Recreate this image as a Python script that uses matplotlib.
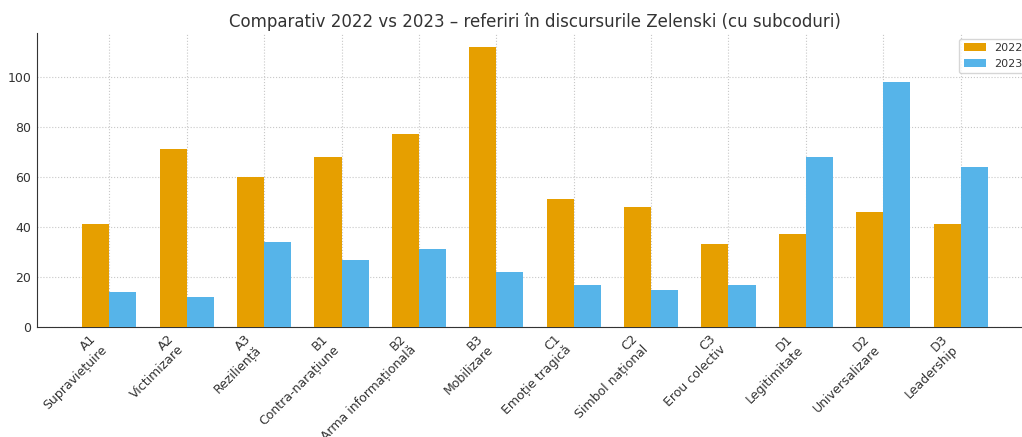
import matplotlib
matplotlib.use("Agg")
import matplotlib.pyplot as plt
import numpy as np

codes = ["A1", "A2", "A3", "B1", "B2", "B3", "C1", "C2", "C3", "D1", "D2", "D3"]
names = ["Supraviețuire", "Victimizare", "Reziliență", "Contra-narațiune",
         "Arma informațională", "Mobilizare", "Emoție tragică", "Simbol național",
         "Erou colectiv", "Legitimitate", "Universalizare", "Leadership"]
v2022 = [41, 71, 60, 68, 77, 112, 51, 48, 33, 37, 46, 41]
v2023 = [14, 12, 34, 27, 31, 22, 17, 15, 17, 68, 98, 64]
labels = [f"{c}\n{n}" for c, n in zip(codes, names)]

plt.rcParams['font.family'] = ['DejaVu Sans']
fig = plt.figure(figsize=(10.22, 4.37), dpi=100)
ax = fig.add_axes([37/1022, 110/437, 996/1022, 294/437])

x = np.arange(len(codes))
w = 0.35
ax.bar(x - w/2, v2022, w, color="#E69F00", label="2022", zorder=3)
ax.bar(x + w/2, v2023, w, color="#56B4E9", label="2023", zorder=3)

ax.set_xticks(x)
ax.set_xticklabels(labels, rotation=45, ha="right",
                   fontsize=9, color="#333333")
ax.tick_params(axis="y", labelsize=9, labelcolor="#333333", length=0, pad=4)
ax.tick_params(axis="x", length=0, pad=4)
ax.grid(True, linestyle=":", color="#c8c8c8", linewidth=0.8, zorder=0)
ax.set_axisbelow(True)
for s in ["top", "right"]:
    ax.spines[s].set_visible(False)
for s in ["left", "bottom"]:
    ax.spines[s].set_color("#333333")
ax.set_title("Comparativ 2022 vs 2023 – referiri în discursurile Zelenski (cu subcoduri)",
             fontsize=12, color="#333333", pad=4)
leg = ax.legend(loc="upper right", fontsize=8, frameon=True)
leg.get_frame().set_edgecolor("#cccccc")
for t in leg.get_texts():
    t.set_color("#333333")

fig.savefig("out.png", dpi=100)
